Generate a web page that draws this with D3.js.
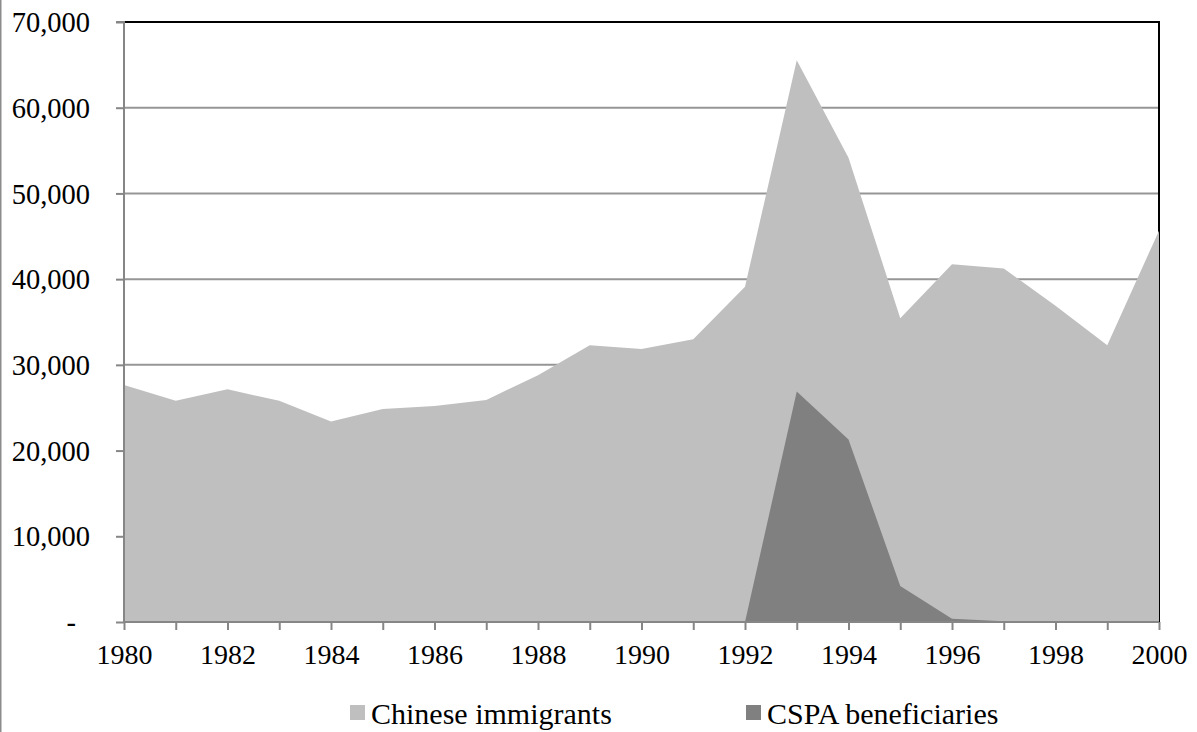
<!DOCTYPE html>
<html>
<head>
<meta charset="utf-8">
<script src="https://cdn.jsdelivr.net/npm/d3@7"></script>
<style>
  body { margin: 0; background: #fff; }
  text { font-family: "Liberation Serif", "Times New Roman", serif; }
</style>
</head>
<body>
<div id="chart"></div>
<script>
// Data
const years = [1980, 1981, 1982, 1983, 1984, 1985, 1986, 1987, 1988, 1989, 1990,
  1991, 1992, 1993, 1994, 1995, 1996, 1997, 1998, 1999, 2000];
const chineseImmigrants = [27650, 25800, 27150, 25800, 23400, 24850, 25200, 25900, 28800, 32300, 31850,
  33000, 39100, 65550, 54150, 35450, 41750, 41250, 36900, 32300, 45650];
const cspaBeneficiaries = [0, 0, 0, 0, 0, 0, 0, 0, 0, 0, 0,
  0, 0, 26900, 21300, 4200, 380, 100, 0, 0, 0];
const yTicks = [0, 10000, 20000, 30000, 40000, 50000, 60000, 70000];
const xTickLabels = [1980, 1982, 1984, 1986, 1988, 1990, 1992, 1994, 1996, 1998, 2000];
const seriesNames = ["Chinese immigrants", "CSPA beneficiaries"];
const seriesColors = ["#bfbfbf", "#808080"];

const width = 1197;
const height = 732;
const margin = { top: 22, right: 38, bottom: 110, left: 124 };

const svg = d3.select("#chart")
  .append("svg")
  .attr("width", width)
  .attr("height", height);

// chart area border (only left edge shows)
svg.append("line")
  .attr("x1", 0.5).attr("x2", 0.5)
  .attr("y1", 0).attr("y2", height)
  .attr("stroke", "#8c8c8c")
  .attr("stroke-width", 2);

const x = d3.scaleLinear()
  .domain([1980, 2000])
  .range([margin.left, width - margin.right]);

const y = d3.scaleLinear()
  .domain([0, 70000])
  .range([height - margin.bottom, margin.top]);

// gridlines
svg.append("g")
  .selectAll("line")
  .data(yTicks.slice(1))
  .enter()
  .append("line")
  .attr("x1", x(1980))
  .attr("x2", x(2000))
  .attr("y1", d => y(d))
  .attr("y2", d => y(d))
  .attr("stroke", "#969696")
  .attr("stroke-width", 2);

// plot border top + right
svg.append("path")
  .attr("d", `M${x(1980)},${y(70000)}H${x(2000)}V${y(0)}`)
  .attr("fill", "none")
  .attr("stroke", "#000")
  .attr("stroke-width", 2);

// areas
const area = d3.area()
  .x((d, i) => x(years[i]))
  .y0(y(0))
  .y1(d => y(d));

svg.append("path")
  .datum(chineseImmigrants)
  .attr("d", area)
  .attr("fill", seriesColors[0]);

svg.append("path")
  .datum(cspaBeneficiaries)
  .attr("d", area)
  .attr("fill", seriesColors[1]);

// y axis
const yAxis = svg.append("g")
  .attr("transform", `translate(${x(1980)},0)`)
  .call(d3.axisLeft(y)
    .tickValues(yTicks)
    .tickSize(8)
    .tickPadding(26)
    .tickFormat(d => d === 0 ? "-" : d3.format(",")(d)));

yAxis.selectAll("text")
  .attr("font-size", 28.5)
  .attr("fill", "#000")
  .attr("dy", "0.34em");
yAxis.selectAll(".tick")
  .filter(d => d === 0)
  .select("text")
  .attr("dx", -14);

// x axis
const xAxis = svg.append("g")
  .attr("transform", `translate(0,${y(0)})`)
  .call(d3.axisBottom(x)
    .tickValues(years)
    .tickSize(8)
    .tickPadding(14)
    .tickFormat(d => xTickLabels.includes(d) ? d : ""));

xAxis.selectAll("text")
  .attr("font-size", 28)
  .attr("fill", "#000");

[yAxis, xAxis].forEach(g => {
  g.select(".domain").attr("stroke", "#868686").attr("stroke-width", 2);
  g.selectAll(".tick line").attr("stroke", "#868686").attr("stroke-width", 2);
});
yAxis.select(".domain").attr("d", `M-8,${y(70000)}H0V${y(0)}`);
xAxis.select(".domain").attr("d", `M${x(1980)},0H${x(2000)}`);

// legend
const legendX = [350, 746];
const legend = svg.append("g")
  .selectAll("g")
  .data(seriesNames)
  .enter()
  .append("g")
  .attr("transform", (d, i) => `translate(${legendX[i]},705)`);

legend.append("rect")
  .attr("width", 15)
  .attr("height", 15)
  .attr("fill", (d, i) => seriesColors[i]);

legend.append("text")
  .attr("x", 21)
  .attr("y", 19)
  .attr("font-size", 30)
  .text(d => d);
</script>
</body>
</html>
